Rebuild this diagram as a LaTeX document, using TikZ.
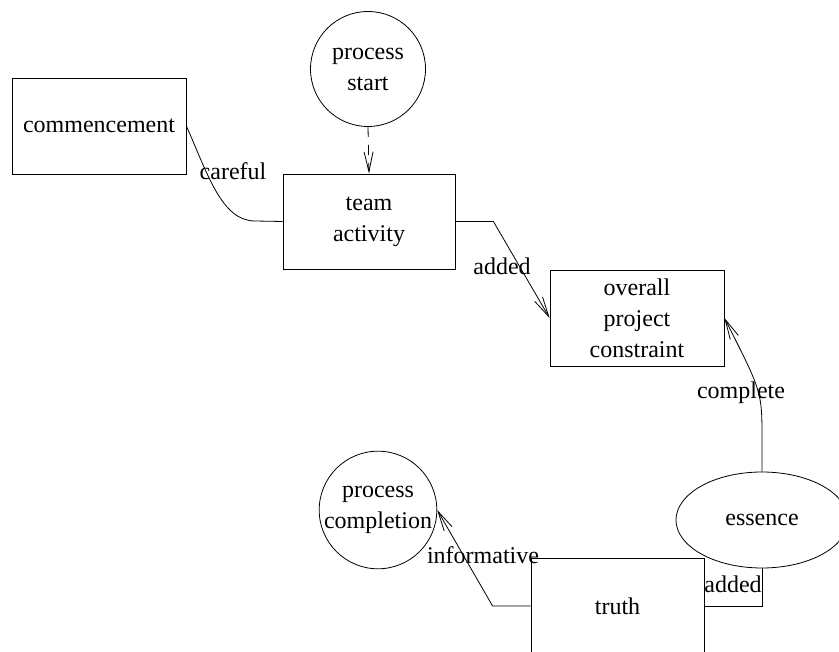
\documentclass[tikz,border=0pt]{standalone}
\usepackage{fontspec}
\setmainfont{Liberation Serif}
\usetikzlibrary{arrows.meta,shapes.geometric}
\begin{document}
\begin{tikzpicture}[x=1pt,y=-1pt,
  every node/.style={font=\fontsize{24}{31}\selectfont, align=center, inner sep=0pt},
  boxnode/.style={draw, rectangle, line width=0.8pt, minimum width=174pt, minimum height=96pt},
  circnode/.style={draw, circle, line width=0.8pt, minimum size=115pt},
  ellnode/.style={draw, ellipse, line width=0.8pt, minimum width=172pt, minimum height=96pt},
  conn/.style={line width=0.8pt},
  arr/.style={conn, -{Straight Barb[length=20pt,width=9pt]}},
  lbl/.style={anchor=base}]
\useasboundingbox (0,0) rectangle (839,652);
\clip (0,0) rectangle (839,652);
\fill[white] (0,0) rectangle (839,652);

\node[boxnode] (cm) at (99,126) {commencement};
\node[circnode] (ps) at (368,69) {process\\start};
\node[boxnode, minimum width=172pt, minimum height=95pt] (ta) at (369,221.5) {team\\activity};
\node[boxnode] (op) at (637,318) {overall\\project\\constraint};
\node[ellnode] (es) at (762,520) {essence};
\node[circnode] (pc) at (378,510) {process\\completion};
\node[boxnode, minimum width=173pt] (tr) at (617.5,606) {truth};

\draw[conn] (cm.east) .. controls (208,175) and (222,221) .. (255,221) -- (ta.west);
\draw[arr, dash pattern=on 10pt off 8pt] (ps.south) -- (ta.north);
\draw[arr] (ta.east) -- ++(38,0) -- (op.west);
\draw[arr] (es.north) -- ++(0,-32) .. controls (762,392) .. (op.east);
\draw[arr] (tr.west) -- ++(-38,0) -- (pc.east);
\draw[conn] (es.south) |- (tr.east);

\node[lbl] (l1) at (233,180) {careful};
\node[lbl] (l2) at (502,275) {added};
\node[lbl] (l3) at (741,399) {complete};
\node[lbl] (l4) at (483,563) {informative};
\node[lbl] (l5) at (733,592) {added};
\end{tikzpicture}
\end{document}
